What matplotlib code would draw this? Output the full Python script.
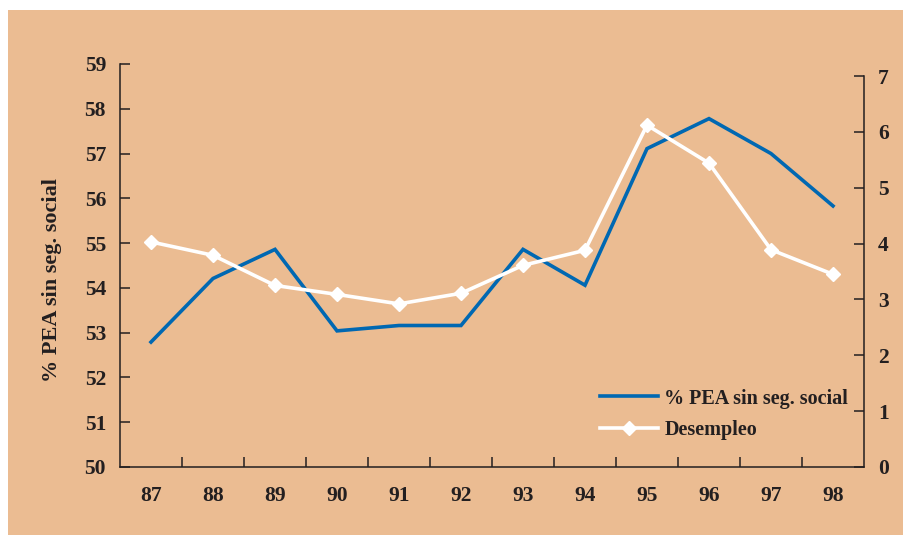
import matplotlib.pyplot as plt
from matplotlib.patches import Rectangle
from matplotlib.lines import Line2D

years = ["87", "88", "89", "90", "91", "92", "93", "94", "95", "96", "97", "98"]
pea_sin_seg = [52.79, 54.21, 54.86, 53.04, 53.16, 53.16, 54.86, 54.06, 57.11, 57.78, 57.0, 55.83]
desempleo = [4.03, 3.79, 3.25, 3.09, 2.92, 3.11, 3.61, 3.88, 6.12, 5.44, 3.89, 3.45]
left_ticks = list(range(50, 60))
right_ticks = list(range(0, 8))

BG = "#EBBC92"
BLUE = "#0068B2"
INK = "#231F20"

plt.rcParams["font.family"] = ["Liberation Serif", "DejaVu Serif"]
plt.rcParams["font.weight"] = "bold"
plt.rcParams["axes.labelweight"] = "bold"

W, H = 905, 535
fig = plt.figure(figsize=(W / 100, H / 100), dpi=100, facecolor="white")
fig.patches.append(Rectangle((8 / W, 0), 1 - 10 / W, 1 - 10 / H,
                             transform=fig.transFigure, facecolor=BG,
                             edgecolor="none", zorder=-10))

# axes box: x 120..864, y 64..467 (pixels from top)
ax = fig.add_axes([120 / W, 1 - 467 / H, (864 - 120) / W, (467 - 64) / H])
ax.set_facecolor("none")
ax2 = ax.twinx()
ax2.set_facecolor("none")

x = list(range(len(years)))
ax.plot(x, pea_sin_seg, color=BLUE, lw=2.6, solid_joinstyle="miter", zorder=3)
ax2.plot(x, desempleo, color="white", lw=2.6, marker="D", markersize=7,
         markeredgecolor="white", zorder=3)

ax.set_xlim(-0.5, len(years) - 0.5)
ax.set_ylim(50, 59)
span = (467 - 64) / (467 - 76) * 7
ax2.set_ylim(0, span)

for a in (ax, ax2):
    for s in a.spines.values():
        s.set_color(INK)
        s.set_linewidth(1.1)
    a.spines["top"].set_visible(False)
ax.spines["right"].set_visible(False)
ax2.spines["left"].set_visible(False)
ax2.spines["bottom"].set_visible(False)
ax2.spines["right"].set_bounds(0, 7)

ax.set_yticks(left_ticks)
ax.set_yticklabels([str(t) for t in left_ticks])
ax2.set_yticks(right_ticks)
ax2.set_yticklabels([str(t) for t in right_ticks])

# category boundaries as ticks, labels centred
ax.set_xticks([i - 0.5 for i in range(1, len(years))])
ax.set_xticklabels([])
ax.set_xticks(x, minor=True)
ax.set_xticklabels(years, minor=True)
ax.tick_params(axis="x", which="major", direction="in", length=7, width=1.1, color=INK)
ax.tick_params(axis="x", which="minor", length=0, pad=14, labelsize=15.5, labelcolor=INK)
ax.tick_params(axis="y", direction="in", length=7, width=1.1, color=INK,
               pad=10, labelsize=15.5, labelcolor=INK)
ax2.tick_params(axis="y", direction="in", length=7, width=1.1, color=INK,
                pad=10, labelsize=15.5, labelcolor=INK)

ax.set_ylabel("% PEA sin seg. social", fontsize=16, color=INK)
ax.yaxis.set_label_coords(-0.078, 0.465)

handles = [Line2D([], [], color=BLUE, lw=2.6),
           Line2D([], [], color="white", lw=2.6, marker="D", markersize=7)]
ax.legend(handles, ["% PEA sin seg. social", "Desempleo"], frameon=False,
          loc="lower right", bbox_to_anchor=(1.003, 0.023), fontsize=14.5,
          handlelength=2.9, handletextpad=0.3, labelspacing=0.55,
          labelcolor=INK)

fig.savefig("out.png", dpi=100, facecolor="white")
